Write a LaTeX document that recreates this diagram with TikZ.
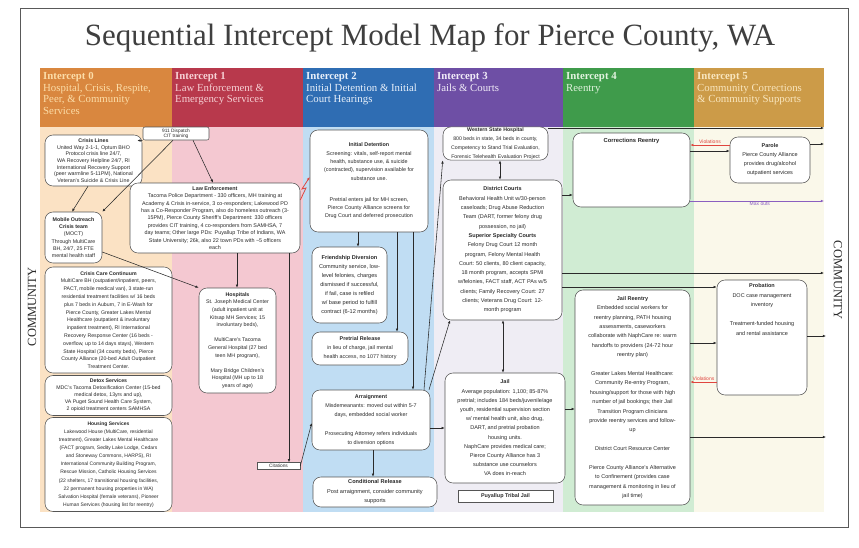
\documentclass[tikz,border=0pt]{standalone}
\usepackage{fontspec}
\setmainfont{Liberation Serif}
\setsansfont{Liberation Sans}
\usetikzlibrary{arrows.meta}
\definecolor{hA}{HTML}{D9873F}
\definecolor{hB}{HTML}{B8394C}
\definecolor{hC}{HTML}{2F6DB3}
\definecolor{hD}{HTML}{6E4FA5}
\definecolor{hE}{HTML}{3F9B4B}
\definecolor{hF}{HTML}{CC9B48}
\definecolor{bA}{HTML}{FBE2C4}
\definecolor{bB}{HTML}{F4C8D1}
\definecolor{bC}{HTML}{C0DDF3}
\definecolor{bD}{HTML}{EFEDF4}
\definecolor{bE}{HTML}{D0ECD3}
\definecolor{bF}{HTML}{FAF8EA}
\definecolor{tA}{HTML}{FCDDA8}
\definecolor{tB}{HTML}{F6D0D4}
\definecolor{tC}{HTML}{E8F0FA}
\definecolor{tD}{HTML}{F1ECF8}
\definecolor{tE}{HTML}{E2F3DF}
\definecolor{tF}{HTML}{F9E6BE}
\definecolor{viol}{HTML}{E0453F}
\definecolor{maxc}{HTML}{8A5FC0}
\definecolor{ink}{HTML}{2A2A2A}
\tikzset{
 box/.style={draw=ink!80, line width=0.55pt, rounded corners=8pt, fill=white, inner sep=1pt, align=center, text=ink},
 fs/.style 2 args={font=\sffamily\fontsize{#1}{#2}\selectfont},
 arr/.style={draw=ink, line width=0.55pt, -{Latex[length=3.2pt,width=2.6pt]}},
 darr/.style={draw=ink, line width=0.55pt, {Latex[length=3.2pt,width=2.6pt]}-{Latex[length=3.2pt,width=2.6pt]}},
 hdr/.style={anchor=north west, align=left, font=\rmfamily\fontsize{10.8}{11.8}\selectfont, inner sep=0pt},
 sqbox/.style={draw=ink!80, line width=0.5pt, fill=white, inner sep=1pt, text=ink},
 lbl/.style={font=\sffamily\fontsize{5}{6}\selectfont, inner sep=0.5pt}
}
\begin{document}
\begin{tikzpicture}[x=1pt,y=-1pt]
\useasboundingbox (0,0) rectangle (859,547);
\fill[white] (0,0) rectangle (859,547);
\draw[black!65, line width=0.9pt] (20,8) rectangle (848,527);
% title
\node[text=ink!90, inner sep=0pt] (title) at (430,38) {\resizebox{690pt}{!}{\rmfamily Sequential Intercept Model Map for Pierce County, WA}};
% bands
\fill[hA] (40,68) rectangle (172,127);
\fill[hB] (172,68) rectangle (303,127);
\fill[hC] (303,68) rectangle (434,127);
\fill[hD] (434,68) rectangle (563,127);
\fill[hE] (563,68) rectangle (694,127);
\fill[hF] (694,68) rectangle (824,127);
\fill[bA] (40,127) rectangle (172,512);
\fill[bB] (172,127) rectangle (303,512);
\fill[bC] (303,127) rectangle (434,512);
\fill[bD] (434,127) rectangle (563,512);
\fill[bE] (563,127) rectangle (694,512);
\fill[bF] (694,127) rectangle (824,512);
% headers
\node[hdr, text=tA] (hdA) at (43,72) {\textbf{Intercept 0}\\Hospital, Crisis, Respite,\\Peer, \& Community\\Services};
\node[hdr, text=tB] (hdB) at (175,72) {\textbf{Intercept 1}\\Law Enforcement \&\\Emergency Services};
\node[hdr, text=tC] (hdC) at (306,72) {\textbf{Intercept 2}\\Initial Detention \& Initial\\Court Hearings};
\node[hdr, text=tD] (hdD) at (437,72) {\textbf{Intercept 3}\\Jails \& Courts};
\node[hdr, text=tE] (hdE) at (566,72) {\textbf{Intercept 4}\\Reentry};
\node[hdr, text=tF] (hdF) at (697,72) {\textbf{Intercept 5}\\Community Corrections\\\& Community Supports};
% community
\node[rotate=90, font=\rmfamily\fontsize{12.5}{13}\selectfont, text=ink, inner sep=0pt] (comL) at (32,307) {COMMUNITY};
\node[rotate=-90, font=\rmfamily\fontsize{12.5}{13}\selectfont, text=ink, inner sep=0pt] (comR) at (838,280) {COMMUNITY};
% column 0
\node[box, fs={5.3}{6.7}, minimum width=97pt, minimum height=51pt] (cl) at (93.5,160.5) {\textbf{Crisis Lines}\\United Way 2-1-1, Optum BHO\\Protocol crisis line 24/7,\\WA Recovery Helpline 24/7, RI\\International Recovery Support\\(peer warmline 5-11PM), National\\Veteran's Suicide \& Crisis Line};
\node[box, fs={5.3}{7.3}, minimum width=57pt, minimum height=51pt] (moct) at (73.5,237.5) {\textbf{Mobile Outreach}\\\textbf{Crisis team}\\(MOCT)\\Through MultiCare\\BH, 24/7, 25 FTE\\mental health staff};
\node[box, fs={5.2}{7.8}, minimum width=127pt, minimum height=106pt] (ccc) at (108.5,320) {\textbf{Crisis Care Continuum}\\MultiCare BH (outpatient/inpatient, peers,\\PACT, mobile medical van), 3 state-run\\residential treatment facilities w/ 16 beds\\plus 7 beds in Auburn, 7 in E-Wash for\\Pierce County, Greater Lakes Mental\\Healthcare (outpatient \& involuntary\\inpatient treatment), RI International\\Recovery Response Center (16 beds -\\overflow, up to 14 days stays), Western\\State Hospital (34 county beds), Pierce\\County Alliance (20-bed Adult Outpatient\\Treatment Center.};
\node[box, fs={5.2}{7}, minimum width=127pt, minimum height=40pt] (detox) at (108.5,395.5) {\textbf{Detox Services}\\MDC's Tacoma Detoxification Center (15-bed\\medical detox, 13yrs and up),\\VA Puget Sound Health Care System,\\2 opioid treatment centers SAMHSA};
\node[box, fs={5.0}{8.1}, minimum width=127pt, minimum height=94pt] (hous) at (108.5,464.5) {\textbf{Housing Services}\\Lakewood House (MultiCare, residential\\treatment), Greater Lakes Mental Healthcare\\(FACT program, Sedity Lake Lodge, Cedars\\and Stoneway Commons, HARPS), RI\\International Community Building Program,\\Rescue Mission, Catholic Housing Services\\(22 shelters, 17 transitional housing facilities,\\22 permanent housing properties in WA)\\Salvation Hospital (female veterans), Pioneer\\Human Services (housing list for reentry)};
% column 1
\node[box, rounded corners=2pt, fs={4.8}{5.4}, minimum width=66pt, minimum height=13pt, inner sep=0.5pt] (disp) at (176,133.5) {911 Dispatch\\CIT training};
\node[box, fs={5.4}{7.4}, minimum width=170pt, minimum height=70pt] (le) at (215,218) {\textbf{Law Enforcement}\\Tacoma Police Department - 330 officers, MH training at\\Academy \& Crisis in-service, 3 co-responders; Lakewood PD\\has a Co-Responder Program, also do homeless outreach (3-\\15PM), Pierce County Sheriff's Department: 330 officers\\provides CIT training, 4 co-responders from SAMHSA, 7\\day teams; Other large PDs: Puyallup Tribe of Indians, WA\\State University; 26k, also 22 town PDs with \textasciitilde 5 officers\\each};
\node[box, fs={5.3}{7.6}, minimum width=77pt, minimum height=105pt] (hosp) at (237.5,340.5) {\textbf{Hospitals}\\St. Joseph Medical Center\\(adult inpatient unit at\\Kitsap MH Services; 15\\involuntary beds),\\[7.6pt]MultiCare's Tacoma\\General Hospital (27 bed\\teen MH program),\\[7.6pt]Mary Bridge Children's\\Hospital (MH up to 18\\years of age)};
\node[sqbox, fs={4.8}{5}, minimum width=43pt, minimum height=7pt, inner sep=0.3pt] (cit) at (278.5,466) {Citations};
% column 2
\node[box, fs={5.4}{8.3}, minimum width=118pt, minimum height=102pt] (id) at (369,181) {\textbf{Initial Detention}\\Screening: vitals, self-report mental\\health, substance use, \& suicide\\(contracted), supervision available for\\substance use.\\[13pt]Pretrial enters jail for MH screen,\\Pierce County Alliance screens for\\Drug Court and deferred prosecution};
\node[box, fs={5.6}{9}, minimum width=75pt, minimum height=76pt] (fd) at (349.5,285) {\textbf{Friendship Diversion}\\Community service, low-\\level felonies, charges\\dismissed if successful,\\if fail, case is refiled\\w/ base period to fulfill\\contract (6-12 months)};
\node[box, fs={5.4}{9}, minimum width=96pt, minimum height=33pt] (pr) at (360,348.5) {\textbf{Pretrial Release}\\in lieu of charge, jail mental\\health access, no 1077 history};
\node[box, fs={5.4}{9}, minimum width=118pt, minimum height=60pt] (arr) at (371,420) {\textbf{Arraignment}\\Misdemeanants: moved out within 5-7\\days, embedded social worker\\[10pt]Prosecuting Attorney refers individuals\\to diversion options};
\node[box, fs={5.6}{9.5}, minimum width=124pt, minimum height=30pt] (cond) at (375,492) {\textbf{Conditional Release}\\Post arraignment, consider community\\supports};
% column 3
\node[box, fs={5.2}{8.8}, minimum width=105pt, minimum height=33pt] (wsh) at (495.5,143.5) {\textbf{Western State Hospital}\\800 beds in state, 34 beds in county,\\Competency to Stand Trial Evaluation,\\Forensic Telehealth Evaluation Project};
\node[box, fs={5.5}{9.3}, minimum width=119pt, minimum height=140pt] (dc) at (502.5,250) {\textbf{District Courts}\\Behavioral Health Unit w/30-person\\caseloads; Drug Abuse Reduction\\Team (DART, former felony drug\\possession, no jail)\\\textbf{Superior Specialty Courts}\\Felony Drug Court 12 month\\program, Felony Mental Health\\Court: 50 clients, 80 client capacity,\\18 month program, accepts SPMI\\w/felonies, FACT staff, ACT PAs w/5\\clients; Family Recovery Court: 27\\clients; Veterans Drug Court: 12-\\month program};
\node[box, fs={5.5}{9.2}, minimum width=120pt, minimum height=110pt] (jail) at (505,428) {\textbf{Jail}\\Average population: 1,100; 85-87\%\\pretrial; includes 184 beds/juvenile/age\\youth, residential supervision section\\w/ mental health unit, also drug,\\DART, and pretrial probation\\housing units.\\NaphCare provides medical care;\\Pierce County Alliance has 3\\substance use counselors\\VA does in-reach};
\node[sqbox, fs={5.4}{6}, minimum width=95pt, minimum height=12pt] (ptj) at (505.5,496) {\textbf{Puyallup Tribal Jail}};
% column 4
\node[box, minimum width=117pt, minimum height=74pt, label={[anchor=north, fs={5.8}{7}, text=ink, inner sep=0pt, yshift=-5pt]north:\textbf{Corrections Reentry}}] (cr) at (631.5,170) {};
\node[box, fs={5.5}{9.4}, minimum width=115pt, minimum height=215pt] (jr) at (632.5,397.5) {\textbf{Jail Reentry}\\Embedded social workers for\\reentry planning, PATH housing\\assessments, caseworkers\\collaborate with NaphCare re: warm\\handoffs to providers (24-72 hour\\reentry plan)\\[9.4pt]Greater Lakes Mental Healthcare:\\Community Re-entry Program,\\housing/support for those with high\\number of jail bookings; their Jail\\Transition Program clinicians\\provide reentry services and follow-\\up\\[9.4pt]District Court Resource Center\\[9.4pt]Pierce County Alliance's Alternative\\to Confinement (provides case\\management \& monitoring in lieu of\\jail time)};
% column 5
\node[box, fs={5.5}{9}, minimum width=80pt, minimum height=46pt] (parole) at (770,160) {\textbf{Parole}\\Pierce County Alliance\\provides drug/alcohol\\outpatient services};
\node[box, minimum width=90pt, minimum height=115pt, label={[anchor=north, align=center, fs={5.5}{9.5}, text=ink, inner sep=0pt, yshift=-4pt]north:\textbf{Probation}\\DOC case management\\inventory\\[9.5pt]Treatment-funded housing\\and rental assistance}] (prob) at (762,337.5) {};
% community end points
\coordinate (eTop) at (824,128);
\coordinate (eParole) at (824,144);
\coordinate (eMax) at (824,201);
\coordinate (eDC) at (824,273);
\coordinate (eProb) at (826,336);
\coordinate (eJR) at (826,437);
% connectors column 0/1
\draw[arr] (disp.south west) -- ([xshift=-5pt,yshift=-6pt]cl.north east);
\draw[arr] (disp.south -| 173,0) -- (moct.north east);
\draw[arr] (disp.south -| 193,0) -- (le.north -| 213,0);
\draw[arr] (cl.south -| 88,0) -- (moct.north -| 72,0);
\draw[arr] (moct.east |- 0,252) -- (hosp.north west);
\draw[arr] (le.south -| 237,0) -- (hosp.north -| 237,0);
\draw[arr] (le.south -| 289,0) -- (cit.north -| 289,0);
\draw[arr] (cit.east) -- (arr.west |- 0,423);
\draw[viol, line width=0.8pt, -{Latex[length=3.2pt,width=2.8pt]}] (le.east |- 0,200) -- (306,188) -- (302,189) -- (id.west |- 0,177);
% column 2
\draw[arr] (id.south -| 358,0) -- (fd.north -| 358,0);
\draw[arr] (id.south -| 397,0) -- (pr.north -| 397,0);
\draw[arr] (id.south -| 413,0) -- (arr.north -| 413,0);
\draw[arr] (arr.south -| 373,0) -- (cond.north -| 373,0);
\draw[arr] (arr.east |- 0,428) -- (jail.west |- 0,428);
\draw[arr] (arr.north -| 424,0) -- (wsh.south west);
\draw[arr] (arr.north -| 429,0) -- (dc.south -| 450,0);
% column 3
\draw[darr] (wsh.south -| 500,0) -- (dc.north -| 500,0);
\draw[darr] (dc.south -| 503,0) -- (jail.north -| 503,0);
\draw[arr] (wsh.east |- 0,128) -- (eTop);
\draw[arr] (dc.east |- 0,195) -- (cr.west |- 0,195);
\draw[arr] (dc.east |- 0,273) -- (eDC);
\draw[arr] (dc.east |- 0,287) -- (prob.west |- 0,287);
\draw[arr] (jail.east |- 0,409) -- (jr.west |- 0,409);
% column 4/5
\draw[arr] (cr.east |- 0,151) -- (parole.west |- 0,151);
\draw[viol, line width=0.6pt, -{Latex[length=3.2pt,width=2.6pt]}] (parole.west |- 0,145) -- node[lbl, text=viol, above=0.5pt] (v1) {Violations} (cr.east |- 0,145);
\draw[arr] (parole.east |- 0,144) -- (eParole);
\draw[maxc, line width=0.6pt, -{Latex[length=3.2pt,width=2.6pt]}] (cr.east |- 0,201) -- node[lbl, text=maxc, pos=0.52, below=0.5pt] (mo) {Max outs} (eMax);
\draw[arr] (jr.east |- 0,343) -- (prob.west |- 0,343);
\draw[viol, line width=0.6pt, -{Latex[length=3.2pt,width=2.6pt]}] (prob.west |- 0,382) -- node[lbl, text=viol, above=0.5pt] (v2) {Violations} (jr.east |- 0,382);
\draw[arr] (prob.east |- 0,336) -- (eProb);
\draw[arr] (jr.east |- 0,437) -- (eJR);
\end{tikzpicture}
\end{document}
